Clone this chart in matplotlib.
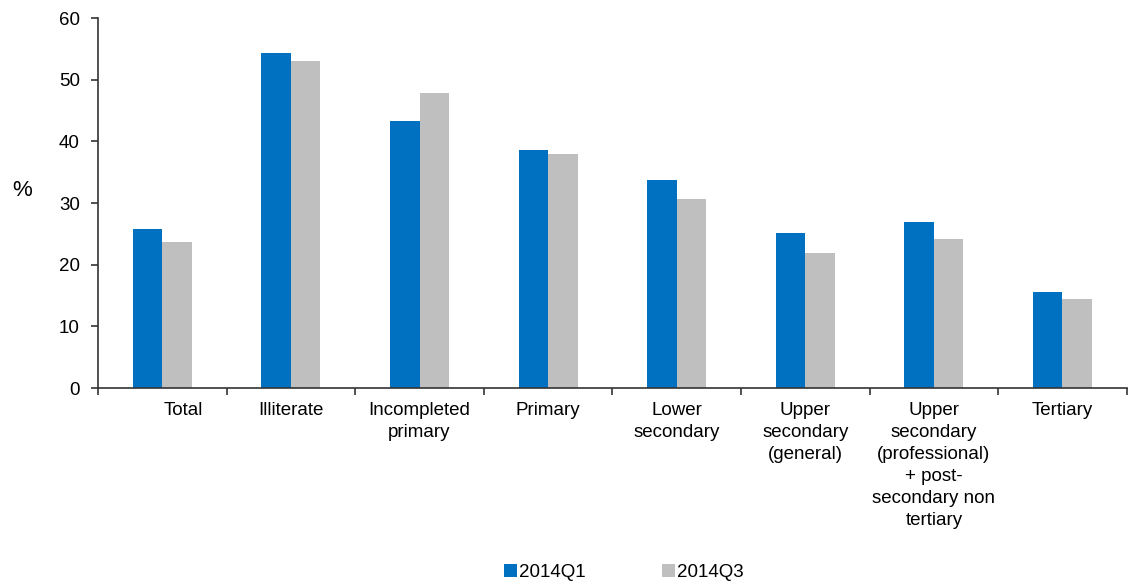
import numpy as np
import matplotlib.pyplot as plt
import matplotlib.transforms as mtransforms

plt.rcParams['font.family'] = ['Liberation Sans', 'DejaVu Sans']
plt.rcParams['font.size'] = 13.5

categories = [
    "Total",
    "Illiterate",
    "Incompleted\nprimary",
    "Primary",
    "Lower\nsecondary",
    "Upper\nsecondary\n(general)",
    "Upper\nsecondary\n(professional)\n+ post-\nsecondary non\ntertiary",
    "Tertiary",
]
q1_2014 = [25.8, 54.4, 43.3, 38.6, 33.8, 25.1, 27.0, 15.6]
q3_2014 = [23.6, 53.0, 47.9, 38.0, 30.7, 21.9, 24.1, 14.4]
series_names = ["2014Q1", "2014Q3"]

blue = "#0070C0"
grey = "#BFBFBF"

fig = plt.figure(figsize=(11.28, 5.82), dpi=100)
ax = fig.add_axes([0.0869, 0.3333, 0.912, 0.6357])

x = np.arange(len(categories))
w = 0.23
ax.bar(x - w / 2, q1_2014, w, color=blue, label=series_names[0])
ax.bar(x + w / 2, q3_2014, w, color=grey, label=series_names[1])

ax.set_xlim(-0.5, len(categories) - 0.5)
ax.set_ylim(0, 60)
ax.set_yticks(range(0, 61, 10))

# labels sit on category centres, tick marks on the boundaries between them
ax.set_xticks(x)
ax.set_xticklabels(categories, linespacing=1.38)
ax.set_xticks(np.arange(-0.5, len(categories)), minor=True)
ax.tick_params(axis='x', which='major', length=0, pad=10)
ax.tick_params(axis='x', which='minor', length=5, width=1.2, color='#333333', direction='out')
ax.tick_params(axis='y', length=5, width=1.2, color='#333333', direction='out', pad=8)

# the "Total" label is pushed a little to the right
first = ax.get_xticklabels()[0]
first.set_transform(first.get_transform() +
                    mtransforms.ScaledTranslation(0.21, 0, fig.dpi_scale_trans))

for side in ('top', 'right'):
    ax.spines[side].set_visible(False)
for side in ('left', 'bottom'):
    ax.spines[side].set_color('#333333')
    ax.spines[side].set_linewidth(1.2)

ax.set_ylabel('%', rotation=0, fontsize=16, va='center')
ax.yaxis.set_label_coords(-0.074, 0.535)

fig.legend(loc='center', bbox_to_anchor=(0.553, 0.017), ncol=2, frameon=False,
           handlelength=0.7, handleheight=0.7, handletextpad=0.1,
           columnspacing=4.1, fontsize=13.5)

fig.savefig('out.png', dpi=100)
